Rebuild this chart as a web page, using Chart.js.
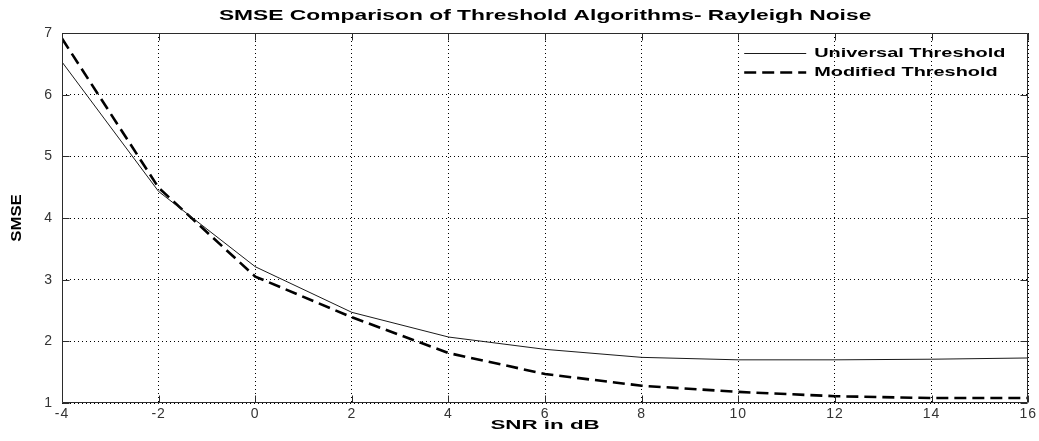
<!DOCTYPE html>
<html>
<head>
<meta charset="utf-8">
<script src="https://cdn.jsdelivr.net/npm/chart.js@4/dist/chart.umd.min.js"></script>
<style>
  html, body { margin: 0; padding: 0; background: #ffffff; }
  canvas { display: block; }
</style>
</head>
<body>
<canvas id="c" width="1039" height="441"></canvas>
<script>
// ---- data ----
const snrDb = [-4, -2, 0, 2, 4, 6, 8, 10, 12, 14, 16];
const universalThreshold = [6.53, 4.43, 3.21, 2.47, 2.07, 1.87, 1.74, 1.70, 1.70, 1.71, 1.73];
const modifiedThreshold  = [6.91, 4.49, 3.05, 2.39, 1.81, 1.47, 1.28, 1.18, 1.11, 1.08, 1.08];
const xTickValues = [-4, -2, 0, 2, 4, 6, 8, 10, 12, 14, 16];
const yTickValues = [1, 2, 3, 4, 5, 6, 7];
const seriesLabels = ['Universal Threshold', 'Modified Threshold'];
const chartTitle = 'SMSE Comparison of Threshold Algorithms- Rayleigh Noise';
const xAxisTitle = 'SNR in dB';
const yAxisTitle = 'SMSE';

const FONT = "'Liberation Sans', Arial, Helvetica, sans-serif";

// stretch helper: the reference's bold texts are horizontally wide
const stretchPlugin = {
  id: 'stretch',
  beforeDraw(chart) {
    const ctx = chart.ctx;
    ctx.letterSpacing = '1px';
    const wrap = (obj, fn, apply) => {
      if (!obj || obj['_wr_' + fn]) return;
      const orig = obj[fn];
      obj[fn] = function (...a) {
        ctx.save();
        ctx.letterSpacing = '0px';
        apply(this);
        const r = orig.apply(this, a);
        ctx.restore();
        return r;
      };
      obj['_wr_' + fn] = true;
    };
    wrap(chart.titleBlock, 'draw', (b) => {
      const cx = (b.left + b.right) / 2;
      ctx.translate(cx, 0); ctx.scale(1.52, 1); ctx.translate(-cx, 0);
    });
    wrap(chart.scales.x, 'drawTitle', (s) => {
      const cx = (s.left + s.right) / 2;
      ctx.translate(cx, 0); ctx.scale(1.72, 1); ctx.translate(-cx, 0);
    });
    wrap(chart.scales.y, 'drawTitle', (s) => {
      const cy = (s.top + s.bottom) / 2;
      ctx.translate(0, cy); ctx.scale(1, 1.2); ctx.translate(0, -cy);
    });
  },
  afterDraw(chart) {
    chart.ctx.letterSpacing = '0px';
  }
};

// MATLAB-like axes box with inward ticks, and the in-axes legend
const boxPlugin = {
  id: 'box',
  afterDatasetsDraw(chart) {
    const ctx = chart.ctx;
    const a = chart.chartArea;
    const xs = chart.scales.x, ys = chart.scales.y;
    const L = Math.round(a.left) + 0.5, R = Math.round(a.right) - 0.5;
    const T = Math.round(a.top) + 0.5, B = Math.round(a.bottom) - 0.5;
    ctx.save();
    ctx.strokeStyle = '#2b2b2b';
    ctx.lineWidth = 1;
    ctx.setLineDash([]);
    ctx.beginPath();
    ctx.rect(L, T, R - L, B - T);
    const tl = 7;
    xTickValues.forEach(v => {
      const px = Math.round(xs.getPixelForValue(v)) + 0.5;
      ctx.moveTo(px, B); ctx.lineTo(px, B - tl);
      ctx.moveTo(px, T); ctx.lineTo(px, T + tl);
    });
    yTickValues.forEach(v => {
      const py = Math.round(ys.getPixelForValue(v)) + 0.5;
      ctx.moveTo(L, py); ctx.lineTo(L + tl, py);
      ctx.moveTo(R, py); ctx.lineTo(R - tl, py);
    });
    ctx.stroke();
    ctx.restore();
  },
  afterDraw(chart) {
    const ctx = chart.ctx;
    const a = chart.chartArea;
    ctx.save();
    ctx.font = 'bold 13px ' + FONT;
    ctx.letterSpacing = '0px';
    ctx.fillStyle = '#000';
    ctx.textBaseline = 'middle';
    ctx.textAlign = 'left';
    chart.data.datasets.forEach((ds, i) => {
      const y = Math.round(a.top + 19.7 + i * 19) + 0.5;
      const x0 = a.right - 284, x1 = a.right - 222;
      ctx.beginPath();
      ctx.strokeStyle = ds.borderColor;
      ctx.lineWidth = ds.borderWidth;
      ctx.setLineDash(ds.borderDash || []);
      ctx.moveTo(x0, y); ctx.lineTo(x1, y);
      ctx.stroke();
      ctx.save();
      ctx.translate(a.right - 214, y);
      ctx.scale(1.53, 1);
      ctx.fillText(ds.label, 0, 0);
      ctx.restore();
    });
    ctx.restore();
  }
};

new Chart(document.getElementById('c'), {
  type: 'line',
  data: {
    datasets: [
      {
        label: seriesLabels[0],
        data: snrDb.map((x, i) => ({ x, y: universalThreshold[i] })),
        borderColor: '#1a1a1a',
        borderWidth: 1,
        pointRadius: 0,
        tension: 0,
        fill: false
      },
      {
        label: seriesLabels[1],
        data: snrDb.map((x, i) => ({ x, y: modifiedThreshold[i] })),
        borderColor: '#000000',
        borderWidth: 2.6,
        borderDash: [12, 6],
        pointRadius: 0,
        tension: 0,
        fill: false
      }
    ]
  },
  options: {
    responsive: false,
    animation: false,
    devicePixelRatio: 1,
    layout: { padding: { left: 0, right: 10, top: 0, bottom: 0 } },
    plugins: {
      legend: { display: false },
      tooltip: { enabled: false },
      title: {
        display: true,
        text: chartTitle,
        fullSize: false,
        color: '#000',
        font: { family: FONT, size: 15, weight: 'bold', lineHeight: 1.2 },
        padding: { top: 7, bottom: 8 }
      }
    },
    scales: {
      x: {
        type: 'linear',
        min: -4, max: 16,
        afterBuildTicks(s) { s.ticks = xTickValues.map(v => ({ value: v })); },
        afterFit(s) { s.height = 38; },
        ticks: {
          color: '#333',
          padding: 3,
          maxRotation: 0,
          font: { family: FONT, size: 14 },
          callback: v => String(v)
        },
        grid: { color: '#000', lineWidth: 1, drawTicks: false },
        border: { display: false, dash: [1, 3] },
        title: {
          display: true,
          text: xAxisTitle,
          color: '#000',
          font: { family: FONT, size: 13, weight: 'bold', lineHeight: 1.2 },
          padding: { top: 0, bottom: 8 }
        }
      },
      y: {
        type: 'linear',
        min: 1, max: 7,
        afterBuildTicks(s) { s.ticks = yTickValues.map(v => ({ value: v })); },
        afterFit(s) { s.width = 62; },
        ticks: {
          color: '#333',
          padding: 9,
          font: { family: FONT, size: 14 },
          callback: v => String(v)
        },
        grid: { color: '#000', lineWidth: 1, drawTicks: false },
        border: { display: false, dash: [1, 3] },
        title: {
          display: true,
          text: yAxisTitle,
          color: '#000',
          font: { family: FONT, size: 14, weight: 'bold', lineHeight: 1.2 },
          padding: { top: 9, bottom: 0 }
        }
      }
    }
  },
  plugins: [stretchPlugin, boxPlugin]
});
</script>
</body>
</html>
